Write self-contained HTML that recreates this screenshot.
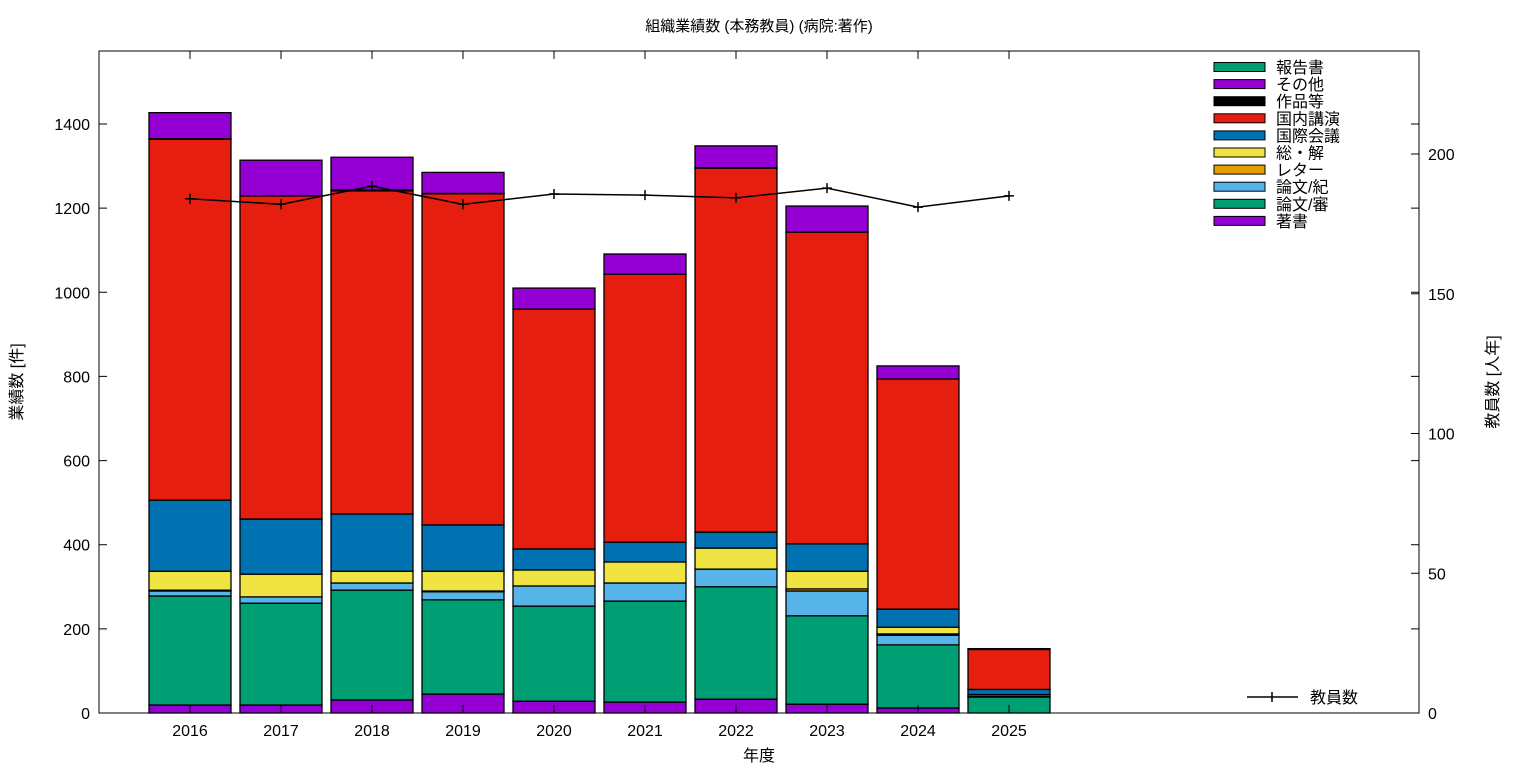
<!DOCTYPE html>
<html><head><meta charset="utf-8"><style>
body{margin:0;background:#fff;}
svg text{font-family:"Liberation Sans","Noto Sans CJK JP",sans-serif;fill:#000;}
</style></head><body>
<svg id="chart" width="1536" height="768" xmlns="http://www.w3.org/2000/svg">
<text x="759" y="31" font-size="15" text-anchor="middle">組織業績数 (本務教員) (病院:著作)</text>
<g id="bars"></g>
<g id="line"></g>
<rect x="99" y="51" width="1320" height="662" fill="none" stroke="#000" stroke-width="1"/>
<g id="axes"></g>
<text x="759" y="761" font-size="16" text-anchor="middle">年度</text>
<text transform="translate(22,382) rotate(-90)" font-size="16" text-anchor="middle">業績数 [件]</text>
<text transform="translate(1498,382) rotate(-90)" font-size="16" text-anchor="middle">教員数 [人年]</text>
<g id="legend"></g>
</svg>
<script>
const years=["2016","2017","2018","2019","2020","2021","2022","2023","2024","2025"];
const chosho=[19,19,31,45,28,26,33,21,12,0];
const ronbunShin=[259,242,261,224,226,240,267,210,150,38];
const ronbunKi=[12,15,17,19,48,43,42,59,23,0];
const letter=[2,0,0,2,0,0,0,5,3,2];
const soukai=[45,54,28,47,38,50,50,42,16,4];
const kokusai=[169,131,136,110,50,47,38,65,43,12];
const kokunai=[858,768,768,787,570,637,865,741,547,95];
const sakuhin=[1,0,2,1,0,0,1,0,0,2];
const sonota=[62,85,78,50,50,48,52,62,31,0];
const houkoku=[0,0,0,0,0,0,0,0,0,0];
const staff=[184,182,188.5,182,185.7,185.3,184.3,187.8,181,185];
const yTicks=[0,200,400,600,800,1000,1200,1400];
const y2Ticks=[0,50,100,150,200];

const NS="http://www.w3.org/2000/svg";
const X=i=>190+91*i;
const Y=v=>713-v*0.42071;
const Y2=v=>713-v*2.795;
function mk(tag,attrs,parent){const e=document.createElementNS(NS,tag);for(const k in attrs)e.setAttribute(k,attrs[k]);parent.appendChild(e);return e;}
const series=[
 {n:"著書",d:chosho,c:"#9400d3",k:"chosho"},
 {n:"論文/審",d:ronbunShin,c:"#009e73",k:"ronbun-shin"},
 {n:"論文/紀",d:ronbunKi,c:"#56b4e9",k:"ronbun-ki"},
 {n:"レター",d:letter,c:"#e69f00",k:"letter"},
 {n:"総・解",d:soukai,c:"#f0e442",k:"soukai"},
 {n:"国際会議",d:kokusai,c:"#0072b2",k:"kokusai"},
 {n:"国内講演",d:kokunai,c:"#e51e10",k:"kokunai"},
 {n:"作品等",d:sakuhin,c:"#000000",k:"sakuhin"},
 {n:"その他",d:sonota,c:"#9400d3",k:"sonota"},
 {n:"報告書",d:houkoku,c:"#009e73",k:"houkoku"}];
const bars=document.getElementById('bars');
years.forEach((yr,i)=>{let acc=0;series.forEach(s=>{const v=s.d[i];if(v<=0)return;
 const r=mk('rect',{x:X(i)-41,y:Y(acc+v),width:82,height:Y(acc)-Y(acc+v),fill:s.c,stroke:"#000","stroke-width":1.3},bars);
 
 
 acc+=v;});});
const lg=document.getElementById('line');
const pl=mk('polyline',{points:staff.map((v,i)=>X(i)+','+Y2(v)).join(' '),fill:"none",stroke:"#000","stroke-width":1.5},lg);


staff.forEach((v,i)=>{const p=mk('path',{d:`M${X(i)-5},${Y2(v)}h10M${X(i)},${Y2(v)-5}v10`,stroke:"#000","stroke-width":1.5},lg);
 
 });
const ax=document.getElementById('axes');
yTicks.forEach(t=>{mk('path',{d:`M99,${Y(t)}h8M1419,${Y(t)}h-8`,stroke:"#000"},ax);
 const tx=mk('text',{x:90,y:Y(t)+6,"font-size":16,"text-anchor":"end"},ax);tx.textContent=t;
 
 });
y2Ticks.forEach(t=>{mk('path',{d:`M1419,${Y2(t)}h-8`,stroke:"#000"},ax);
 const tx=mk('text',{x:1428,y:Y2(t)+6,"font-size":16},ax);tx.textContent=t;
 
 });
years.forEach((yr,i)=>{mk('path',{d:`M${X(i)},713v-8M${X(i)},51v8`,stroke:"#000"},ax);
 const tx=mk('text',{x:X(i),y:736,"font-size":16,"text-anchor":"middle"},ax);tx.textContent=yr;
 
 });
const leg=document.getElementById('legend');
series.slice().reverse().forEach((s,j)=>{const y=67+j*17.1;
 const r=mk('rect',{x:1214,y:y-4.5,width:51,height:9,fill:s.c,stroke:"#000","stroke-width":1},leg);
 
 
 const t=mk('text',{x:1276,y:y+6,"font-size":16},leg);t.textContent=s.n;
 
 });
mk('path',{d:"M1247,697h51M1272,692v10",stroke:"#000","stroke-width":1.5},leg);
const lt=mk('text',{x:1310,y:703,"font-size":16},leg);lt.textContent="教員数";


</script>
</body></html>
